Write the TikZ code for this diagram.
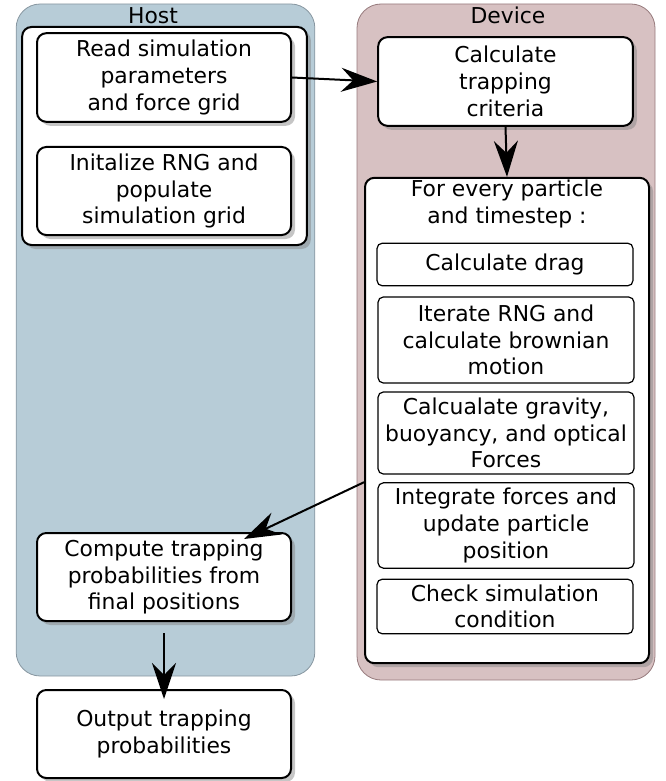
\documentclass[tikz,border=0pt]{standalone}
\usepackage{fontspec}
\setmainfont{DejaVu Sans}
\usetikzlibrary{positioning}
\usetikzlibrary{shadows}
\usetikzlibrary{arrows.meta}
\definecolor{hostfill}{RGB}{183,204,215}
\definecolor{hostline}{RGB}{135,150,160}
\definecolor{devfill}{RGB}{215,193,194}
\definecolor{devline}{RGB}{150,122,124}
\newcommand{\boxfont}{\fontsize{16.4}{20}\selectfont}
\tikzstyle{side} = [rounded corners=18pt, line width=0.6pt]
\tikzstyle{task} = [draw=black, fill=white, rounded corners=7pt, line width=1.5pt,
align=center, inner sep=2pt, font=\boxfont,
drop shadow={shadow xshift=3pt, shadow yshift=-3pt, opacity=0.45}]
\tikzstyle{subtask} = [draw=black, fill=white, rounded corners=4pt, line width=0.9pt,
align=center, inner sep=1pt, font=\boxfont]
\tikzstyle{flow} = [-{Stealth[length=27pt, width=18pt, inset=9pt]}, line width=1.5pt]

\begin{document}
\begin{tikzpicture}[x=0.75pt, y=-0.75pt]
  \useasboundingbox (0,0) rectangle (666,781);
  % host and device areas
  \node[side, draw=hostline, fill=hostfill, minimum width=224pt, minimum height=504pt] (host) at (165.5,340) {};
  \node[side, draw=devline, fill=devfill, minimum width=223.5pt, minimum height=507pt] (device) at (506,342) {};
  \node[font=\boxfont, inner sep=0pt] (hostlabel) at (153,16) {Host};
  \node[font=\boxfont, inner sep=0pt] (devlabel) at (508,15) {Device};
  % setup on host
  \node[task, minimum width=213.5pt, minimum height=163.5pt] (setup) at (164.5,136) {};
  \node[task, minimum width=190.5pt, minimum height=66.5pt] (read) at (164,77.5)
    {Read simulation\\parameters\\and force grid};
  \node[task, minimum width=190.5pt, minimum height=66pt] (init) at (164,191)
    {Initalize RNG and\\populate\\simulation grid};
  % device kernel
  \node[task, minimum width=191pt, minimum height=66.5pt] (crit) at (505.5,81.5)
    {Calculate\\trapping\\criteria};
  \node[task, minimum width=213pt, minimum height=364pt] (loop) at (507,420.5) {};
  \node[font=\boxfont, align=center, inner sep=0pt] (looptitle) at (507,204)
    {For every particle\\and timestep :};
  \node[subtask, minimum width=192pt, minimum height=32pt] (drag) at (505,264.5)
    {Calculate drag};
  \node[subtask, minimum width=192pt, minimum height=64.5pt] (brown) at (506,340)
    {Iterate RNG and\\calculate brownian\\motion};
  \node[subtask, minimum width=192pt, minimum height=61.5pt] (forces) at (506,433)
    {Calcualate gravity,\\buoyancy, and optical\\Forces};
  \node[subtask, minimum width=192pt, minimum height=64pt] (integ) at (506,525.5)
    {Integrate forces and\\update particle\\position};
  \node[subtask, minimum width=192pt, minimum height=41pt] (check) at (505,606.5)
    {Check simulation\\condition};
  % back on host
  \node[task, minimum width=190.5pt, minimum height=66pt] (comp) at (164,577)
    {Compute trapping\\probabilities from\\final positions};
  \node[task, minimum width=190.5pt, minimum height=66pt] (out) at (164,734)
    {Output trapping\\probabilities};
  % flow
  \draw[flow] (read.east) -- (crit.west);
  \draw[flow] (crit.south) -- (loop.north);
  \draw[flow] (loop.west |- integ.north) -- ([shift={(-48,7)}]comp.north east);
  \draw[flow] ([shift={(0,11)}]comp.south) -- ([shift={(0,10)}]out.north);
\end{tikzpicture}
\end{document}
